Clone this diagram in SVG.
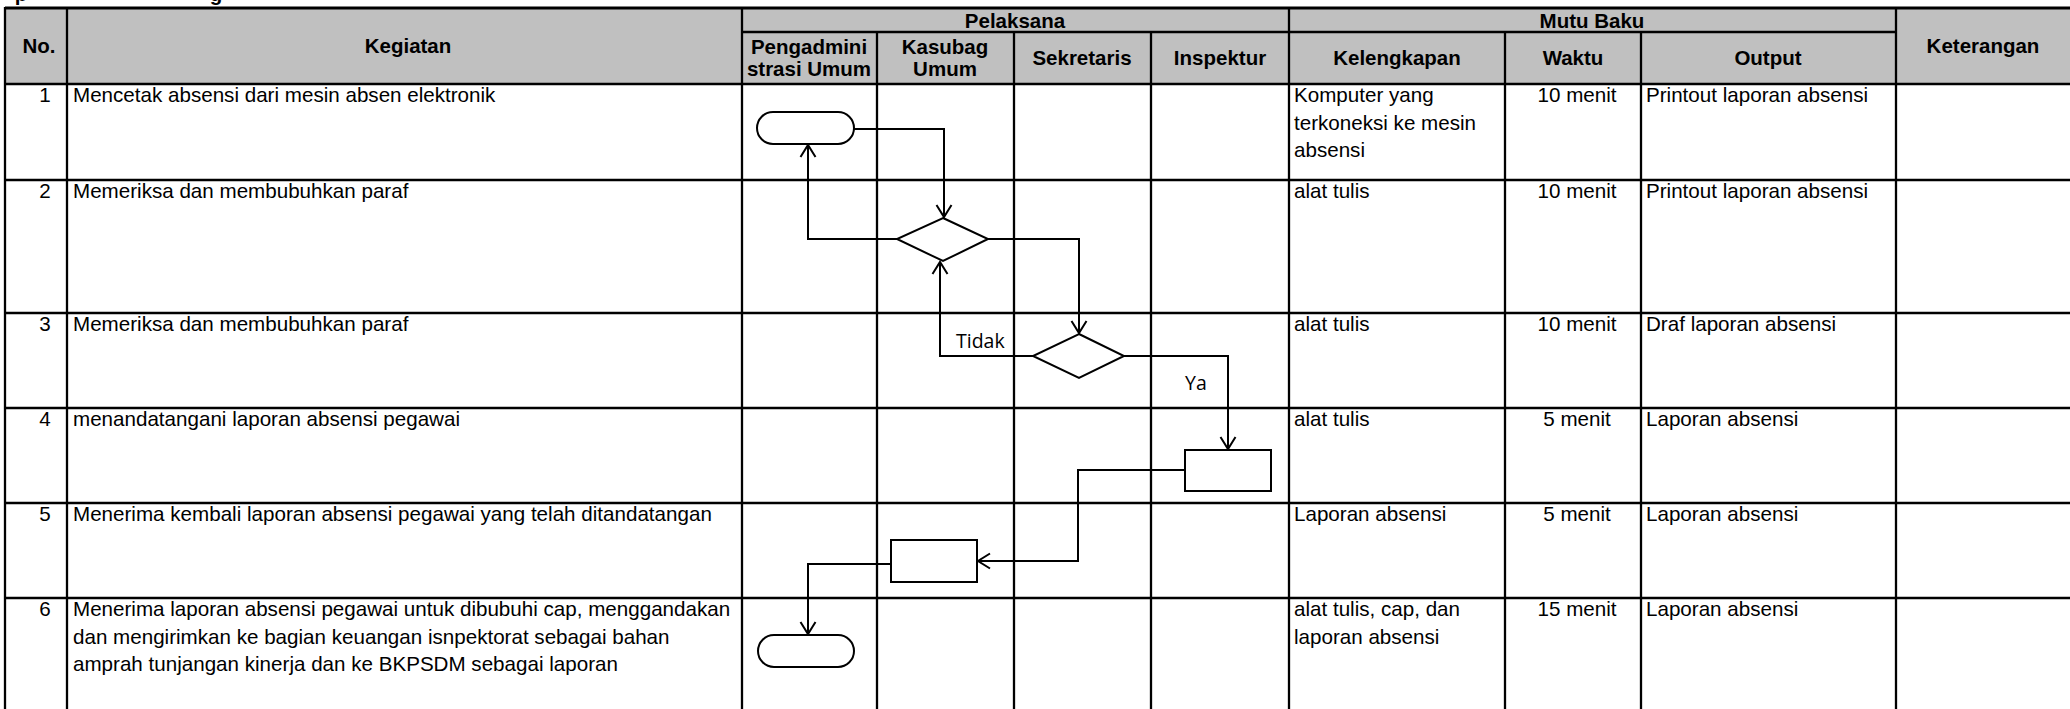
<svg xmlns="http://www.w3.org/2000/svg" width="2070" height="709" viewBox="0 0 2070 709">
<style>
  .hdr{fill:#C0C0C0;stroke:none}
  .grid line{stroke:#000;stroke-width:2.3}
  .th{font-family:"Liberation Sans",Arial,sans-serif;font-weight:bold;font-size:20.5px;fill:#000;text-anchor:middle}
  .td{font-family:"Liberation Sans",Arial,sans-serif;font-size:20.6px;fill:#000}
  .c{text-anchor:middle}
  .shape{fill:#fff;stroke:#000;stroke-width:2}
  .conn path{fill:none;stroke:#000;stroke-width:2}
  .lbl{font-family:"Open Sans","Noto Sans",sans-serif;font-size:19.5px;fill:#000}
</style>
<defs>
  <marker id="arr" viewBox="-14 -9 16 18" refX="0" refY="0" markerWidth="16" markerHeight="18" markerUnits="userSpaceOnUse" orient="auto">
    <path d="M-12,-7.5 L0,0 L-12,7.5" fill="none" stroke="#000" stroke-width="2"/>
  </marker>
</defs>
<rect width="2070" height="709" fill="#fff"/>
<!-- clipped title fragments -->
<text class="th" x="21" y="0.5">p</text>
<text class="th" x="216" y="0.5">g</text>

<g id="table">
  <rect class="hdr" x="5" y="8" width="2065" height="76"/>
  <g class="grid">
    <line x1="5" y1="8" x2="2070" y2="8" style="stroke-width:2.8"/>
    <line x1="742" y1="32" x2="1896" y2="32"/>
    <line x1="5" y1="84" x2="2070" y2="84"/>
    <line x1="5" y1="180" x2="2070" y2="180"/>
    <line x1="5" y1="313" x2="2070" y2="313"/>
    <line x1="5" y1="408" x2="2070" y2="408"/>
    <line x1="5" y1="503" x2="2070" y2="503"/>
    <line x1="5" y1="598" x2="2070" y2="598"/>
    <line x1="5" y1="7" x2="5" y2="709"/>
    <line x1="67" y1="8" x2="67" y2="709"/>
    <line x1="742" y1="8" x2="742" y2="709"/>
    <line x1="877" y1="32" x2="877" y2="709"/>
    <line x1="1014" y1="32" x2="1014" y2="709"/>
    <line x1="1151" y1="32" x2="1151" y2="709"/>
    <line x1="1289" y1="8" x2="1289" y2="709"/>
    <line x1="1505" y1="32" x2="1505" y2="709"/>
    <line x1="1641" y1="32" x2="1641" y2="709"/>
    <line x1="1896" y1="8" x2="1896" y2="709"/>
  </g>
  <g id="header">
    <text class="th" x="39" y="53">No.</text>
    <text class="th" x="408" y="53">Kegiatan</text>
    <text class="th" x="1015" y="28">Pelaksana</text>
    <text class="th" x="1592" y="28">Mutu Baku</text>
    <text class="th" x="1983" y="53">Keterangan</text>
    <text class="th" x="809" y="54">Pengadmini</text>
    <text class="th" x="809" y="75.5">strasi Umum</text>
    <text class="th" x="945" y="54">Kasubag</text>
    <text class="th" x="945" y="75.5">Umum</text>
    <text class="th" x="1082" y="65">Sekretaris</text>
    <text class="th" x="1220" y="65">Inspektur</text>
    <text class="th" x="1397" y="65">Kelengkapan</text>
    <text class="th" x="1573" y="65">Waktu</text>
    <text class="th" x="1768" y="65">Output</text>
  </g>
  <g id="row1">
    <text class="td c" x="45" y="102">1</text>
    <text class="td" x="73" y="102">Mencetak absensi dari mesin absen elektronik</text>
    <text class="td" x="1294" y="102">Komputer yang</text>
    <text class="td" x="1294" y="129.5">terkoneksi ke mesin</text>
    <text class="td" x="1294" y="157">absensi</text>
    <text class="td c" x="1577" y="102">10 menit</text>
    <text class="td" x="1646" y="102">Printout laporan absensi</text>
  </g>
  <g id="row2">
    <text class="td c" x="45" y="198">2</text>
    <text class="td" x="73" y="198">Memeriksa dan membubuhkan paraf</text>
    <text class="td" x="1294" y="198">alat tulis</text>
    <text class="td c" x="1577" y="198">10 menit</text>
    <text class="td" x="1646" y="198">Printout laporan absensi</text>
  </g>
  <g id="row3">
    <text class="td c" x="45" y="331">3</text>
    <text class="td" x="73" y="331">Memeriksa dan membubuhkan paraf</text>
    <text class="td" x="1294" y="331">alat tulis</text>
    <text class="td c" x="1577" y="331">10 menit</text>
    <text class="td" x="1646" y="331">Draf laporan absensi</text>
  </g>
  <g id="row4">
    <text class="td c" x="45" y="426">4</text>
    <text class="td" x="73" y="426">menandatangani laporan absensi pegawai</text>
    <text class="td" x="1294" y="426">alat tulis</text>
    <text class="td c" x="1577" y="426">5 menit</text>
    <text class="td" x="1646" y="426">Laporan absensi</text>
  </g>
  <g id="row5">
    <text class="td c" x="45" y="521">5</text>
    <text class="td" x="73" y="521">Menerima kembali laporan absensi pegawai yang telah ditandatangan</text>
    <text class="td" x="1294" y="521">Laporan absensi</text>
    <text class="td c" x="1577" y="521">5 menit</text>
    <text class="td" x="1646" y="521">Laporan absensi</text>
  </g>
  <g id="row6">
    <text class="td c" x="45" y="616">6</text>
    <text class="td" x="73" y="616">Menerima laporan absensi pegawai untuk dibubuhi cap, menggandakan</text>
    <text class="td" x="73" y="643.5">dan mengirimkan ke bagian keuangan isnpektorat sebagai bahan</text>
    <text class="td" x="73" y="671">amprah tunjangan kinerja dan ke BKPSDM sebagai laporan</text>
    <text class="td" x="1294" y="616">alat tulis, cap, dan</text>
    <text class="td" x="1294" y="643.5">laporan absensi</text>
    <text class="td c" x="1577" y="616">15 menit</text>
    <text class="td" x="1646" y="616">Laporan absensi</text>
  </g>
</g>

<g id="connectors" class="conn">
  <path d="M854,129 H944 V217" marker-end="url(#arr)"/>
  <path d="M897,239 H808 V145" marker-end="url(#arr)"/>
  <path d="M988,239 H1079 V333" marker-end="url(#arr)"/>
  <path d="M1033,356 H940 V262" marker-end="url(#arr)"/>
  <path d="M1124,356 H1228 V449" marker-end="url(#arr)"/>
  <path d="M1185,470 H1078 V561 H978" marker-end="url(#arr)"/>
  <path d="M891,564 H808 V634" marker-end="url(#arr)"/>
</g>

<g id="start"><rect class="shape" x="757" y="112" width="97" height="32" rx="16"/></g>
<g id="decision1"><polygon class="shape" points="943,218 988,239 943,261 897,239"/></g>
<g id="decision2"><polygon class="shape" points="1079,334 1124,356 1079,378 1033,356"/></g>
<g id="sign"><rect class="shape" x="1185" y="450" width="86" height="41"/></g>
<g id="receive"><rect class="shape" x="891" y="540" width="86" height="42"/></g>
<g id="end"><rect class="shape" x="758" y="635" width="96" height="32" rx="16"/></g>

<g id="labels">
  <text class="lbl" x="956" y="348">Tidak</text>
  <text class="lbl" x="1185" y="390">Ya</text>
</g>
</svg>
